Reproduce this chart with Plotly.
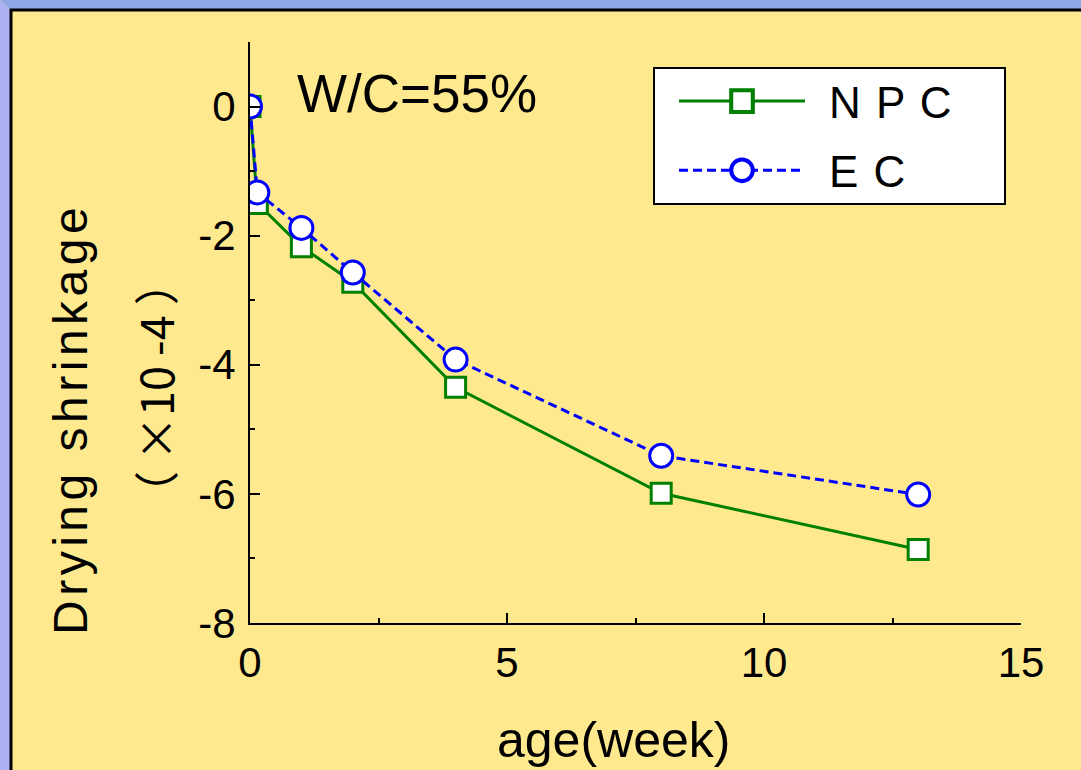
import plotly.graph_objects as go

# ---- data ----
age_weeks = [0, 1/7, 1, 2, 4, 8, 13]
npc_shrinkage = [0, -1.50, -2.17, -2.72, -4.35, -5.99, -6.86]
ec_shrinkage = [0, -1.33, -1.88, -2.57, -3.92, -5.41, -6.01]
series_names = ["N P C", "E C"]
x_ticks = [0, 5, 10, 15]
y_ticks = [0, -2, -4, -6, -8]

W, H = 1081, 770
L, R, T, B = 250, 1021, 42, 623  # plot area in px


def px(xp):
    return (xp - L) / (R - L)


def py(yp):
    return (B - yp) / (B - T)


YELLOW = "#FFE98F"

fig = go.Figure()
fig.add_trace(go.Scatter(
    x=age_weeks, y=npc_shrinkage, name=series_names[0], mode="lines+markers",
    line=dict(color="#008000", width=3),
    marker=dict(symbol="square", size=20, color="white", line=dict(color="#008000", width=3)),
    legendgroup="a",
))
fig.add_trace(go.Scatter(
    x=age_weeks, y=ec_shrinkage, name=series_names[1], mode="lines+markers",
    line=dict(color="#0000FF", width=3, dash="9px,5px"),
    marker=dict(symbol="circle", size=23, color="white", line=dict(color="#0000FF", width=3)),
    legendgroup="b",
))

shapes = [
    # top strip
    dict(type="path", xref="paper", yref="paper", layer="below",
         path=f"M {px(0)},{py(0)} L {px(W)},{py(0)} L {px(W)},{py(10)} L {px(10)},{py(10)} Z",
         fillcolor="#8FA8E8", line=dict(width=0)),
    # left strip
    dict(type="path", xref="paper", yref="paper", layer="below",
         path=f"M {px(0)},{py(0)} L {px(10)},{py(10)} L {px(10)},{py(H)} L {px(0)},{py(H)} Z",
         fillcolor="#B0B0F5", line=dict(width=0)),
    # black frame
    dict(type="path", xref="paper", yref="paper", layer="below",
         path=f"M {px(11)},{py(H + 5)} L {px(11)},{py(10)} L {px(W + 5)},{py(10)}",
         line=dict(color="black", width=3)),
    # legend box
    dict(type="rect", xref="paper", yref="paper", layer="above",
         x0=px(654), x1=px(1005), y0=py(68), y1=py(204),
         fillcolor="white", line=dict(color="black", width=2)),
]

annotations = [
    dict(text="W/C=55%", x=px(295), y=py(93), xref="paper", yref="paper",
         xanchor="left", yanchor="middle", showarrow=False,
         font=dict(family="Liberation Sans", size=53, color="black")),
    dict(text="Drying shrinkage", x=px(70), y=py(419), xref="paper", yref="paper",
         xanchor="center", yanchor="middle", textangle=-90, showarrow=False,
         font=dict(family="Liberation Sans", size=48, color="black")),
    dict(text="（ ×10 -4 ）", x=px(154), y=py(388), xref="paper", yref="paper",
         xanchor="center", yanchor="middle", textangle=-90, showarrow=False,
         font=dict(family="Noto Sans CJK JP", size=45, color="black")),
    dict(text="age(week)", x=px(613), y=py(740), xref="paper", yref="paper",
         xanchor="center", yanchor="middle", showarrow=False,
         font=dict(family="Liberation Sans", size=50, color="black")),
]

fig.update_layout(
    width=W, height=H,
    margin=dict(l=L, r=W - R, t=T, b=H - B, pad=0),
    paper_bgcolor=YELLOW, plot_bgcolor=YELLOW,
    showlegend=True,
    legend=dict(
        x=px(674), y=py(66), xanchor="left", yanchor="top",
        bgcolor="rgba(0,0,0,0)", borderwidth=0,
        font=dict(family="Liberation Sans", size=44, color="black"),
        itemwidth=126, tracegroupgap=9, traceorder="grouped",
    ),
    shapes=shapes,
    annotations=annotations,
    xaxis=dict(
        range=[0, 15], tickvals=x_ticks, ticktext=[str(v) for v in x_ticks],
        showgrid=False, zeroline=False, showline=True, linecolor="black", linewidth=2,
        ticks="inside", ticklen=10, tickwidth=2, tickcolor="black",
        minor=dict(ticks="inside", ticklen=5, tickwidth=2, tickcolor="black", dtick=2.5, tick0=0),
        tickfont=dict(family="Liberation Sans", size=42, color="black"),
        ticklabelstandoff=2,
    ),
    yaxis=dict(
        range=[-8, 1], tickvals=y_ticks, ticktext=[str(v) for v in y_ticks],
        showgrid=False, zeroline=False, showline=True, linecolor="black", linewidth=2,
        ticks="inside", ticklen=10, tickwidth=2, tickcolor="black",
        minor=dict(ticks="inside", ticklen=5, tickwidth=2, tickcolor="black", dtick=1, tick0=0),
        tickfont=dict(family="Liberation Sans", size=42, color="black"),
        ticklabelstandoff=4,
    ),
)

post = """
document.body.style.margin = '0px';
document.body.style.overflow = 'hidden';
document.body.style.background = '#FFE98F';
document.querySelectorAll('text.annotation-text').forEach(function(t){
  if (t.textContent === 'Drying shrinkage') { t.style.letterSpacing = '4.5px'; }
});
document.querySelectorAll('g.legend g.scrollbox, g.legend').forEach(function(g){
  g.removeAttribute('clip-path');
});
document.querySelectorAll('g.legend [clip-path]').forEach(function(g){
  g.removeAttribute('clip-path');
});
document.querySelectorAll('g.legend text.legendtext').forEach(function(t){
  t.style.letterSpacing = '1.5px';
  var x = parseFloat(t.getAttribute('x') || '0');
  t.setAttribute('x', x + 19);
});
document.querySelectorAll('g.legend g.legendpoints path.scatterpts').forEach(function(p){
  var tr = p.getAttribute('transform') || '';
  p.setAttribute('transform', tr + ' scale(1.35)');
});
"""

fig.write_html("out.html", post_script=post, config={"displayModeBar": False})
